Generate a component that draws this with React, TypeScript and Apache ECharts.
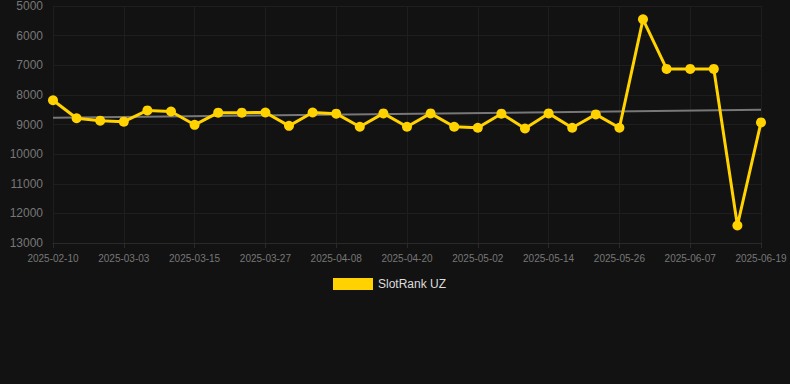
import React, { useEffect, useRef } from "react";
import * as echarts from "echarts";

const dates = [
  "2025-02-10", "2025-02-17", "2025-02-24", "2025-03-03", "2025-03-07", "2025-03-11",
  "2025-03-15", "2025-03-19", "2025-03-23", "2025-03-27", "2025-03-31", "2025-04-04",
  "2025-04-08", "2025-04-12", "2025-04-16", "2025-04-20", "2025-04-24", "2025-04-28",
  "2025-05-02", "2025-05-06", "2025-05-10", "2025-05-14", "2025-05-18", "2025-05-22",
  "2025-05-26", "2025-05-30", "2025-06-03", "2025-06-07", "2025-06-11", "2025-06-15",
  "2025-06-19",
];

const rankValues = [
  8180, 8790, 8870, 8905, 8525, 8560, 9010, 8600, 8600, 8595, 9045, 8595,
  8635, 9075, 8625, 9075, 8625, 9075, 9110, 8635, 9135, 8625, 9110, 8660,
  9110, 5450, 7125, 7125, 7125, 12410, 8930,
];

const trendValues = [8775, 8505];

const yTicks = { min: 5000, max: 13000, interval: 1000 };

export default function App() {
  const ref = useRef<HTMLDivElement>(null);
  useEffect(() => {
    if (!ref.current) return;
    const chart = echarts.init(ref.current, null, { renderer: "svg" });
    const last = dates.length - 1;
    chart.setOption({
      animation: false,
      backgroundColor: "#121212",
      grid: { left: 53, right: 29, top: 6, bottom: 141, containLabel: false },
      legend: {
        data: ["SlotRank UZ"],
        top: 273,
        left: 328,
        itemWidth: 40,
        itemHeight: 12,
        itemGap: 8,
        icon: "rect",
        textStyle: { color: "#dddddd", fontSize: 12, fontFamily: "Arial, Liberation Sans, sans-serif" },
      },
      xAxis: {
        type: "category",
        data: dates,
        boundaryGap: false,
        axisLine: { show: true, lineStyle: { color: "#2a2a2a" } },
        axisTick: { show: true, interval: 2, lineStyle: { color: "#2a2a2a" } },
        axisLabel: {
          interval: 2,
          color: "#777777",
          fontSize: 10,
          margin: 10,
          fontFamily: "Arial, Liberation Sans, sans-serif",
        },
        splitLine: { show: true, interval: 2, lineStyle: { color: "#1e1e1e" } },
      },
      yAxis: {
        type: "value",
        inverse: true,
        min: yTicks.min,
        max: yTicks.max,
        interval: yTicks.interval,
        axisLine: { show: false },
        axisTick: { show: false },
        axisLabel: {
          color: "#777777",
          fontSize: 12,
          margin: 10,
          formatter: (v: number) => String(v),
          fontFamily: "Arial, Liberation Sans, sans-serif",
        },
        splitLine: { show: true, lineStyle: { color: "#1e1e1e" } },
      },
      series: [
        {
          name: "Trend",
          type: "line",
          data: [[dates[0], trendValues[0]], [dates[last], trendValues[1]]],
          symbol: "none",
          lineStyle: { color: "#777777", width: 2 },
          z: 1,
        },
        {
          name: "SlotRank UZ",
          type: "line",
          data: rankValues,
          symbol: "circle",
          symbolSize: 10,
          itemStyle: { color: "#FFD200" },
          lineStyle: { color: "#FFD200", width: 3 },
          z: 2,
        },
      ],
    });
    return () => chart.dispose();
  }, []);
  return (
    <div
      ref={ref}
      style={{ position: "fixed", left: 0, top: 0, width: 790, height: 384 }}
    />
  );
}
